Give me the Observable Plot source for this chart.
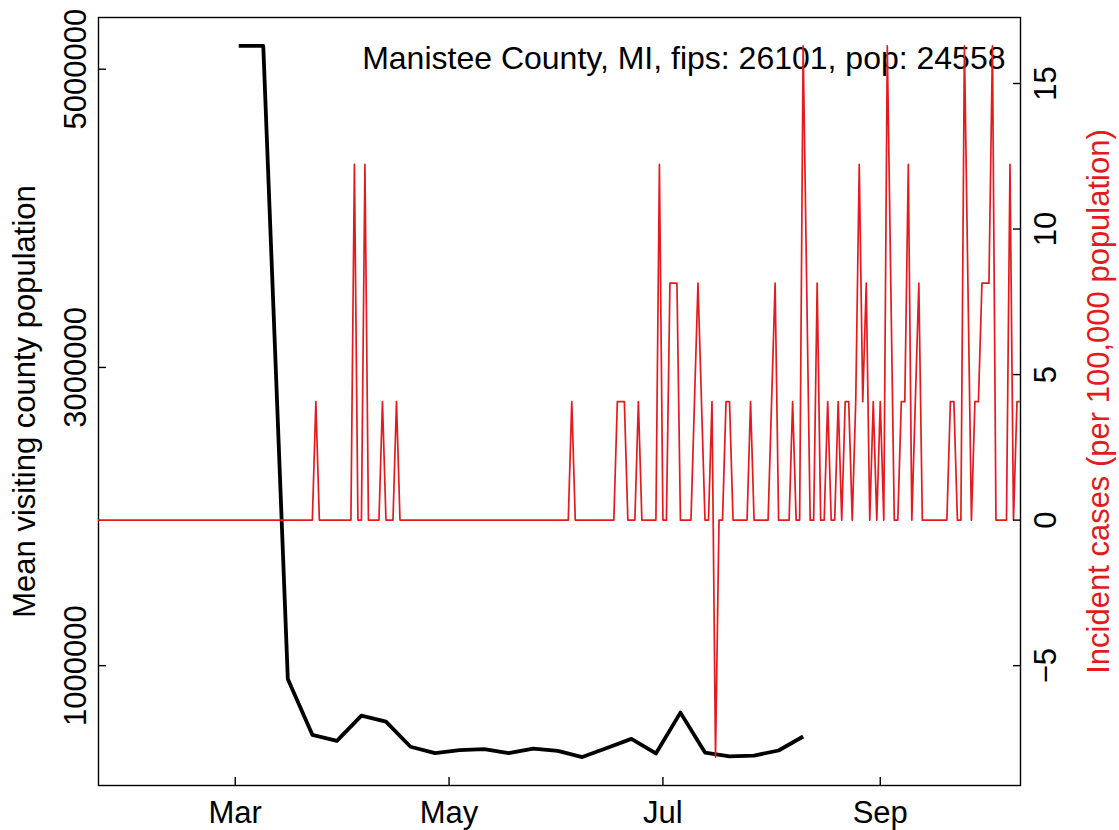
<!DOCTYPE html>
<html><head><meta charset="utf-8">
<script src="https://cdn.jsdelivr.net/npm/d3@7"></script>
<script src="https://cdn.jsdelivr.net/npm/@observablehq/plot@0.6"></script>
<style>
html,body{margin:0;padding:0;background:#fff;}
#chart{position:relative;width:1119px;height:830px;}
#chart svg{position:absolute;left:0;top:0;}
</style></head><body><div id="chart"></div>
<script>
const countyTitle = "Manistee County, MI, fips: 26101, pop: 24558";
const leftLabel = "Mean visiting county population";
const rightLabel = "Incident cases (per 100,000 population)";

// weekly mean visiting county population (black line)
const visitWeeks = ["2020-03-02","2020-03-09","2020-03-16","2020-03-23","2020-03-30","2020-04-06","2020-04-13","2020-04-20","2020-04-27","2020-05-04","2020-05-11","2020-05-18","2020-05-25","2020-06-01","2020-06-08","2020-06-15","2020-06-22","2020-06-29","2020-07-06","2020-07-13","2020-07-20","2020-07-27","2020-08-03","2020-08-10"];
const visitMeans = [5156000,5156000,911000,536000,496000,665000,625000,456000,413000,434000,440000,413000,444000,429000,387000,448000,509000,411000,685000,417000,391000,397000,431000,525000];

// daily incident cases per 100,000 (red line), first day 2020-01-22
const incStart = "2020-01-22";
const incJan = [0,0,0,0,0,0,0,0,0,0];
const incFeb = [0,0,0,0,0,0,0,0,0,0, 0,0,0,0,0,0,0,0,0,0, 0,0,0,0,0,0,0,0,0];
const incMar = [0,0,0,0,0,0,0,0,0,0, 0,0,0,0,0,0,0,0,0,0, 0,0,0,4.07,0,0,0,0,0,0, 0];
const incApr = [0,0,0,12.22,0,0,12.22,0,0,0, 0,4.07,0,0,0,4.07,0,0,0,0, 0,0,0,0,0,0,0,0,0,0];
const incMay = [0,0,0,0,0,0,0,0,0,0, 0,0,0,0,0,0,0,0,0,0, 0,0,0,0,0,0,0,0,0,0, 0];
const incJun = [0,0,0,0,4.07,0,0,0,0,0, 0,0,0,0,0,0,0,4.07,4.07,4.07, 0,0,0,4.07,0,0,0,0,0,12.22];
const incJul = [0,0,8.14,8.14,8.14,0,0,0,0,4.07, 8.14,4.07,0,0,4.07,-8.14,0,0,4.07,4.07, 0,0,0,0,0,4.07,0,0,0,0, 0];
const incAug = [4.07,8.14,0,0,0,0,4.07,0,0,16.29, 8.14,0,0,8.14,0,0,4.07,0,0,4.07, 0,4.07,4.07,0,4.07,12.22,4.07,8.14,0,4.07, 0];
const incSep = [4.07,0,16.29,8.14,0,0,4.07,4.07,12.22,0, 4.07,8.14,0,0,0,0,0,0,0,0, 4.07,4.07,0,0,16.29,8.14,0,4.07,4.07,8.14];
const incOct = [8.14,8.14,16.29,0,0,0,0,12.22,0,4.07, 4.07];

const xTickDates = ["2020-03-01","2020-05-01","2020-07-01","2020-09-01"];
const leftTicks = [1000000, 3000000, 5000000];
const rightTicks = [-5, 0, 5, 10, 15];

const RED = "#e41a1c";
const W = 1119, H = 830;
const margins = {marginLeft: 98, marginRight: 99, marginTop: 17, marginBottom: 45};
const parse = d3.utcParse("%Y-%m-%d");

const visit = visitWeeks.map((d, i) => ({date: parse(d), value: visitMeans[i]}));
const incDaily = [...incJan, ...incFeb, ...incMar, ...incApr, ...incMay, ...incJun, ...incJul, ...incAug, ...incSep, ...incOct];
const incStartDate = parse(incStart);
const inc = incDaily.map((v, i) => ({date: d3.utcDay.offset(incStartDate, i), value: v}));
const xDomain = d3.extent(inc, d => d.date);
function pad(ext) { const s = ext[1] - ext[0]; return [ext[0] - 0.04 * s, ext[1] + 0.04 * s]; }

const fontStyle = {fontFamily: "'Liberation Sans', Arial, Helvetica, sans-serif", fontSize: "31px", background: "transparent", color: "black", overflow: "visible"};

const p1 = Plot.plot({
  width: W, height: H, ...margins,
  style: fontStyle,
  x: {type: "utc", domain: xDomain},
  y: {domain: pad(d3.extent(visitMeans))},
  marks: [
    Plot.frame({stroke: "black", strokeWidth: 1.4}),
    Plot.axisX({ticks: xTickDates.map(parse), tickFormat: d3.utcFormat("%b"), tickSize: -8, tickPadding: 23, label: null, strokeWidth: 1.4}),
    Plot.axisY({anchor: "left", ticks: leftTicks, tickFormat: d3.format("d"), tickRotate: -90, tickSize: -8, tickPadding: 21, label: null, strokeWidth: 1.4}),
    Plot.text([leftLabel], {text: d => d, frameAnchor: "left", rotate: -90, dx: -64, lineAnchor: "bottom", textAnchor: "middle", fill: "black"}),
    Plot.text([countyTitle], {text: d => d, frameAnchor: "top-right", dx: -15, dy: 51, lineAnchor: "bottom", textAnchor: "end", fill: "black", fontSize: 32}),
    Plot.line(visit, {x: "date", y: "value", stroke: "black", strokeWidth: 3.8, strokeLinejoin: "round", strokeLinecap: "butt"})
  ]
});

const p2 = Plot.plot({
  width: W, height: H, ...margins,
  style: fontStyle,
  x: {type: "utc", domain: xDomain, axis: null},
  y: {domain: pad(d3.extent(incDaily))},
  marks: [
    Plot.line(inc, {x: "date", y: "value", stroke: RED, strokeWidth: 1.7, strokeLinejoin: "round", clip: true}),
    Plot.axisY({anchor: "right", ticks: rightTicks, tickRotate: -90, lineAnchor: "top", tickSize: -8, tickPadding: 21, label: null, strokeWidth: 1.4}),
    Plot.text([rightLabel], {text: d => d, frameAnchor: "right", rotate: -90, dx: 88, lineAnchor: "bottom", textAnchor: "middle", fill: RED})
  ]
});

const root = document.getElementById("chart");
root.appendChild(p1);
root.appendChild(p2);
</script></body></html>
